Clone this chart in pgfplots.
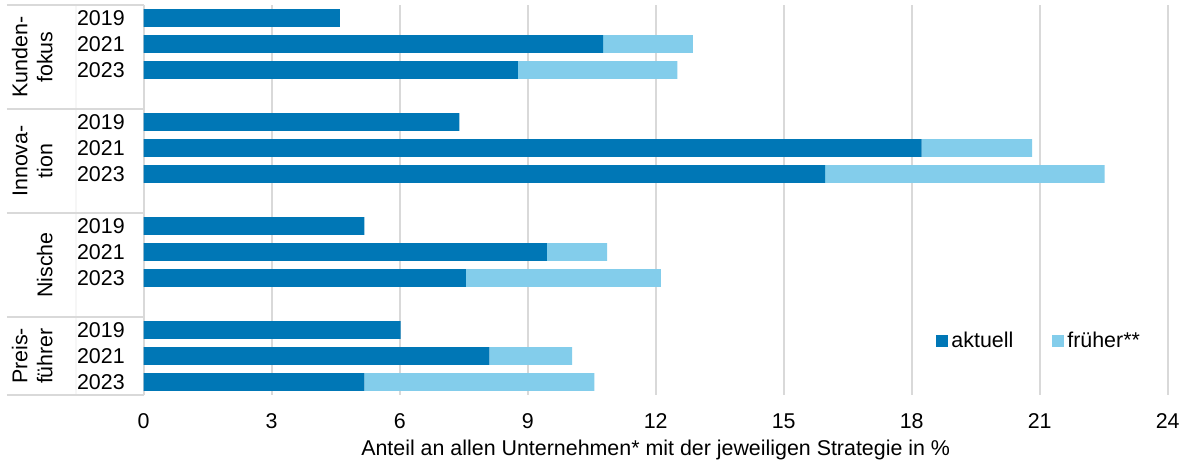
\documentclass[border=0pt]{standalone}
\usepackage{fontspec}
\setmainfont{Liberation Sans}
\usepackage{pgfplots}
\pgfplotsset{compat=1.18}

\definecolor{aktuell}{RGB}{0,119,182}
\definecolor{frueher}{RGB}{131,205,235}
\definecolor{gitter}{RGB}{217,217,217}

\begin{document}
\begin{tikzpicture}[font=\fontsize{10.7}{12.6}\selectfont]
% picture frame, 1px = 0.5pt
\useasboundingbox (-71.85pt,-32.5pt) rectangle (519.65pt,197.5pt);
\begin{axis}[
  xbar stacked,
  scale only axis,
  width=512pt, height=195pt,
  xmin=0, xmax=24,
  ymin=-0.5, ymax=14.5,
  y dir=reverse,
  bar width=0.68,
  xtick={0,3,...,24},
  ytick={0,1,2,4,5,6,8,9,10,12,13,14},
  yticklabels={2019,2021,2023,2019,2021,2023,2019,2021,2023,2019,2021,2023},
  xmajorgrids,
  grid style={gitter, line width=1pt},
  axis line style={draw=none},
  major tick length=0pt,
  tick style={draw=none},
  /pgf/number format/assume math mode=true,
  xticklabel style={inner sep=0pt, yshift=-9pt},
  yticklabel style={inner sep=0pt, xshift=-9.3pt},
  xlabel={Anteil an allen Unternehmen* mit der jeweiligen Strategie in \%},
  xlabel style={at={(axis description cs:0.5,0)}, anchor=north, inner sep=0pt, yshift=-22.5pt},
  clip=false,
  legend columns=2,
  legend style={at={(rel axis cs:0.875,0.138)}, anchor=center, draw=none, fill=none,
    inner sep=0pt, nodes={inner sep=1.5pt},
    /tikz/every even column/.append style={column sep=18pt}},
  legend image code/.code={\fill[#1] (0pt,-3pt) rectangle (6pt,3pt);},
]

% aktuell
\addplot[fill=aktuell, draw=none] coordinates {
  (4.60,0) (10.77,1) (8.77,2)
  (7.40,4) (18.23,5) (15.97,6)
  (5.17,8) (9.45,9) (7.55,10)
  (6.02,12) (8.10,13) (5.17,14)
};
% frueher
\addplot[fill=frueher, draw=none] coordinates {
  (0,0) (2.10,1) (3.74,2)
  (0,4) (2.59,5) (6.55,6)
  (0,8) (1.41,9) (4.57,10)
  (0,12) (1.94,13) (5.39,14)
};
\legend{aktuell,früher**}

% table lines on the left
\draw[gitter, line width=1pt] ([xshift=-68.4pt]axis cs:0,-0.5) -- (axis cs:0,-0.5);
\draw[gitter, line width=1pt] ([xshift=-68.4pt]axis cs:0,3.5) -- (axis cs:0,3.5);
\draw[gitter, line width=1pt] ([xshift=-68.4pt]axis cs:0,7.5) -- (axis cs:0,7.5);
\draw[gitter, line width=1pt] ([xshift=-68.4pt]axis cs:0,11.5) -- (axis cs:0,11.5);
\draw[gitter, line width=1pt] ([xshift=-68.4pt]axis cs:0,14.5) -- (axis cs:0,14.5);
\draw[gitter!25, line width=0.6pt] ([xshift=-33.8pt]axis cs:0,-0.5) -- ([xshift=-33.8pt]axis cs:0,14.5);

% group labels
\node[rotate=90, anchor=south, align=center, inner sep=0pt] at ([xshift=-45.3pt]axis cs:0,1.5) {Kunden-\\fokus};
\node[rotate=90, anchor=south, align=center, inner sep=0pt] at ([xshift=-45.3pt]axis cs:0,5.5) {Innova-\\tion};
\node[rotate=90, anchor=south, align=center, inner sep=0pt] at ([xshift=-45.3pt]axis cs:0,9.5) {Nische};
\node[rotate=90, anchor=south, align=center, inner sep=0pt] at ([xshift=-45.3pt]axis cs:0,13) {Preis-\\führer};
\end{axis}
\end{tikzpicture}
\end{document}
